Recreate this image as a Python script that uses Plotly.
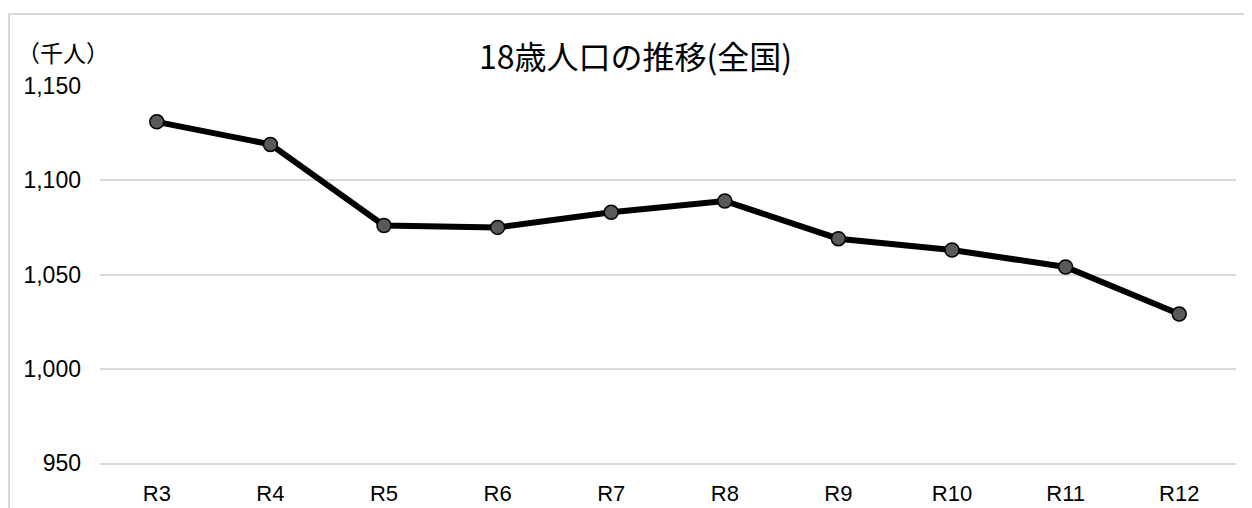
import plotly.graph_objects as go

categories = ["R3", "R4", "R5", "R6", "R7", "R8", "R9", "R10", "R11", "R12"]
population = [1131, 1119, 1076, 1075, 1083, 1089, 1069, 1063, 1054, 1029]
y_ticks = [950, 1000, 1050, 1100, 1150]
title_text = "18歳人口の推移(全国)"
unit_text = "（千人）"

OFF = 8  # default page body margin
W, H = 1252 - OFF, 508 - OFF
L, R, T, B = 100 - OFF, 16, 86 - OFF, 45
pw, ph = W - L - R, H - T - B


def px_x(page_x):
    return (page_x - OFF - L) / pw


def px_y(page_y):
    return 1 - (page_y - OFF - T) / ph


fig = go.Figure()
fig.add_trace(go.Scatter(
    x=categories, y=population, mode="lines+markers",
    line=dict(color="#000000", width=6),
    marker=dict(symbol="circle", size=14, color="#595959",
                line=dict(color="#000000", width=1.5)),
    hoverinfo="x+y", showlegend=False,
))

fig.update_layout(
    width=W, height=H,
    margin=dict(l=L, r=R, t=T, b=B, autoexpand=False),
    paper_bgcolor="white", plot_bgcolor="white",
    font=dict(family="Liberation Sans, Arial, sans-serif", size=22, color="#000000"),
    xaxis=dict(type="category", range=[-0.5, len(categories) - 0.5],
               showgrid=False, zeroline=False,
               showline=True, linecolor="#d9d9d9", linewidth=2,
               ticks="", ticklabelstandoff=10,
               tickfont=dict(size=22)),
    yaxis=dict(range=[950, 1150], tickvals=y_ticks, tickformat=",d",
               showgrid=True, gridcolor="#d9d9d9", gridwidth=2,
               zeroline=False, showline=False, ticks="",
               ticklabelstandoff=18, tickfont=dict(size=23)),
    shapes=[dict(type="rect", xref="paper", yref="paper",
                 x0=px_x(9), x1=px_x(1275),
                 y0=px_y(540), y1=px_y(14),
                 line=dict(color="#d9d9d9", width=2), layer="below")],
    annotations=[
        dict(text=title_text, xref="paper", yref="paper",
             x=px_x(635), y=px_y(55), xanchor="center", yanchor="middle",
             showarrow=False,
             font=dict(family="Noto Sans CJK JP", size=32, color="#000000")),
        dict(text=unit_text, xref="paper", yref="paper",
             x=px_x(15), y=px_y(52), xanchor="left", yanchor="middle",
             showarrow=False,
             font=dict(family="Noto Sans CJK JP", size=23, color="#000000")),
    ],
)

fig.write_html("out.html")
